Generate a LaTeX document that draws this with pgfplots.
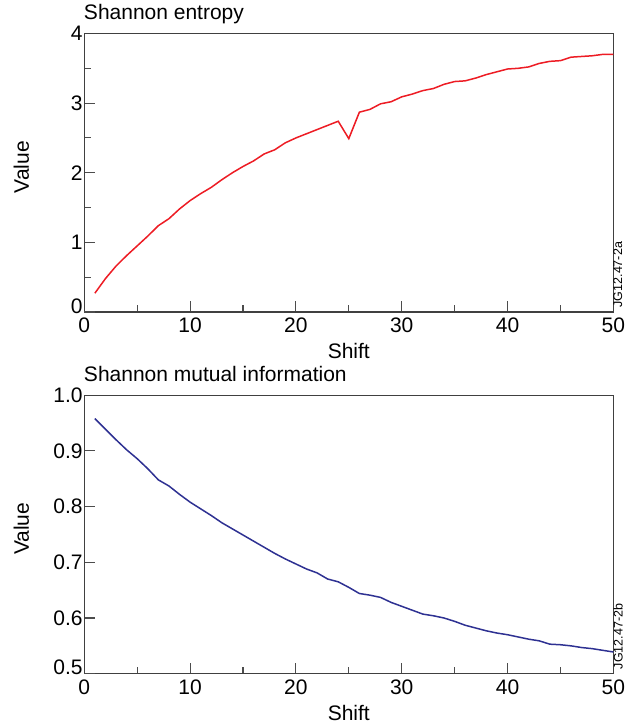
\documentclass[border=0pt]{standalone}
\usepackage{fontspec}
\setmainfont{Liberation Sans}
\usepackage{pgfplots}
\pgfplotsset{compat=1.18}
\definecolor{entred}{HTML}{ED1C24}
\definecolor{minavy}{HTML}{2E3192}
\pgfplotstableread{
s v
1 0.27
2 0.48
3 0.66
4 0.81
5 0.95
6 1.09
7 1.24
8 1.34
9 1.48
10 1.60
11 1.70
12 1.79
13 1.90
14 2.00
15 2.09
16 2.17
17 2.27
18 2.33
19 2.43
20 2.50
21 2.56
22 2.62
23 2.68
24 2.74
25 2.49
26 2.87
27 2.91
28 2.99
29 3.02
30 3.09
31 3.13
32 3.18
33 3.21
34 3.27
35 3.31
36 3.32
37 3.36
38 3.41
39 3.45
40 3.49
41 3.50
42 3.52
43 3.57
44 3.60
45 3.61
46 3.66
47 3.67
48 3.68
49 3.70
50 3.70
}\entropy
\pgfplotstableread{
s v
1 0.958
2 0.939
3 0.920
4 0.902
5 0.886
6 0.868
7 0.848
8 0.837
9 0.822
10 0.808
11 0.796
12 0.784
13 0.771
14 0.760
15 0.749
16 0.738
17 0.727
18 0.716
19 0.706
20 0.697
21 0.688
22 0.681
23 0.670
24 0.665
25 0.655
26 0.644
27 0.641
28 0.637
29 0.628
30 0.621
31 0.614
32 0.607
33 0.604
34 0.600
35 0.594
36 0.587
37 0.582
38 0.577
39 0.573
40 0.570
41 0.566
42 0.562
43 0.559
44 0.553
45 0.552
46 0.550
47 0.547
48 0.545
49 0.542
50 0.539
}\mutual
\pgfplotsset{
  myaxis/.style={
    scale only axis, width=529bp, height=278.5bp,
    xmin=0, xmax=50,
    xtick={0,10,20,30,40,50},
    minor xtick={5,15,25,35,45},
    tick align=inside, tick pos=left,
    major tick length=11bp, minor tick length=6.5bp,
    every tick/.style={black!70, line width=1.1bp},
    axis line style={black!75, line width=1.2bp},
    clip mode=individual,
    /pgf/number format/assume math mode=true,
    tick label style={font=\fontsize{21bp}{25bp}\selectfont},
    label style={font=\fontsize{21bp}{25bp}\selectfont},
    xticklabel style={inner sep=0pt, anchor=north, yshift=-6bp},
    yticklabel style={inner sep=0pt, anchor=east, xshift=-1.5bp},
    xlabel={Shift},
    xlabel style={at={(axis description cs:0.5,-0.167)}, anchor=base},
    ylabel={Value},
    ylabel style={at={(axis description cs:-0.119,0.52)}, anchor=center},
    title style={at={(axis description cs:0,1)}, anchor=base west, inner sep=0pt, xshift=-0.5bp, yshift=8bp, font=\fontsize{21bp}{25bp}\selectfont},
    extra y tick style={yticklabel style={yshift=6bp}},
  }
}
\begin{document}
\begin{tikzpicture}
\path[use as bounding box] (-84.3bp,-413bp) rectangle (550.7bp,312bp);
\begin{axis}[myaxis, at={(0,0)}, anchor=south west,
  title={Shannon entropy},
  ymin=0, ymax=4,
  ytick={1,2,3,4},
  minor ytick={0.5,1.5,2.5,3.5},
  extra y ticks={0},
]
\addplot[entred, line width=1.5bp] table[x=s, y=v] {\entropy};
\node[rotate=90, anchor=north west, inner sep=0pt, font=\fontsize{12.5bp}{14bp}\selectfont] at (rel axis cs:1,0) [xshift=4.5bp] {JG12.47-2a};
\end{axis}
\begin{axis}[myaxis, at={(0,-361.7bp)}, anchor=south west,
  title={Shannon mutual information},
  ymin=0.5, ymax=1.0,
  ytick={0.6,0.7,0.8,0.9,1.0},
  extra y ticks={0.5},
  yticklabel style={/pgf/number format/fixed, /pgf/number format/fixed zerofill, /pgf/number format/precision=1},
  extra y tick style={yticklabel style={/pgf/number format/fixed, /pgf/number format/fixed zerofill, /pgf/number format/precision=1}},
]
\addplot[minavy, line width=1.5bp] table[x=s, y=v] {\mutual};
\node[rotate=90, anchor=north west, inner sep=0pt, font=\fontsize{12.5bp}{14bp}\selectfont] at (rel axis cs:1,0) [xshift=4.5bp] {JG12.47-2b};
\end{axis}
\end{tikzpicture}
\end{document}
